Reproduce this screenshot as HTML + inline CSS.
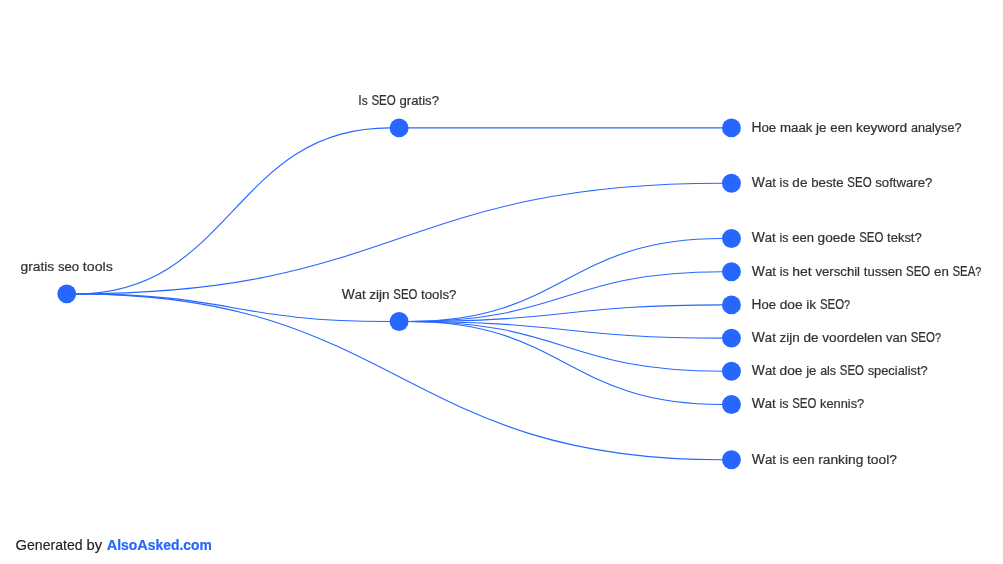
<!DOCTYPE html>
<html lang="nl">
<head>
<meta charset="utf-8">
<title>gratis seo tools</title>
<style>
html,body{margin:0;padding:0;background:#fff;}
body{width:1003px;height:564px;overflow:hidden;position:relative;}
svg{position:absolute;left:0;top:0;display:block;will-change:transform;}
text{font-family:"Liberation Sans",sans-serif;font-size:13.4px;fill:#333333;stroke:#333333;stroke-width:0.22px;}
.u{font-size:14.1px;}
.footer .u{font-size:14.8px;}
.links path{fill:none;stroke:#2667ff;stroke-width:1.1;}
.nodes circle{fill:#2667ff;}
.footer text{font-size:14.1px;fill:#222;stroke:#222;stroke-width:0.15px;}
.footer .brand{font-weight:bold;fill:#2667ff;stroke:#2667ff;stroke-width:0.22px;}
</style>
</head>
<body>
<svg xmlns="http://www.w3.org/2000/svg" width="1003" height="564" viewBox="0 0 1003 564">
<rect width="1003" height="564" fill="#ffffff"/>
<g class="links">
<path d="M66.75,293.85L76.10,293.85C232.92,293.85 232.93,127.90 389.75,127.90L399.10,127.90"/>
<path d="M66.75,293.85L76.10,293.85C232.92,293.85 232.93,321.50 389.75,321.50L399.10,321.50"/>
<path d="M399.10,127.90L408.45,127.90C565.28,127.90 565.28,127.90 722.10,127.90L731.45,127.90"/>
<path d="M66.75,293.85L76.10,293.85C399.10,293.85 399.10,183.20 722.10,183.20L731.45,183.20"/>
<path d="M399.10,321.50L408.45,321.50C565.28,321.50 565.28,238.50 722.10,238.50L731.45,238.50"/>
<path d="M399.10,321.50L408.45,321.50C565.28,321.50 565.28,271.70 722.10,271.70L731.45,271.70"/>
<path d="M399.10,321.50L408.45,321.50C565.28,321.50 565.28,304.90 722.10,304.90L731.45,304.90"/>
<path d="M399.10,321.50L408.45,321.50C565.28,321.50 565.28,338.10 722.10,338.10L731.45,338.10"/>
<path d="M399.10,321.50L408.45,321.50C565.28,321.50 565.28,371.30 722.10,371.30L731.45,371.30"/>
<path d="M399.10,321.50L408.45,321.50C565.28,321.50 565.28,404.50 722.10,404.50L731.45,404.50"/>
<path d="M66.75,293.85L76.10,293.85C399.10,293.85 399.10,459.80 722.10,459.80L731.45,459.80"/>
</g>
<g class="nodes">
<circle cx="66.75" cy="293.85" r="9.45"/>
<circle cx="399.10" cy="127.90" r="9.45"/>
<circle cx="399.10" cy="321.50" r="9.45"/>
<circle cx="731.45" cy="127.90" r="9.45"/>
<circle cx="731.45" cy="183.20" r="9.45"/>
<circle cx="731.45" cy="238.50" r="9.45"/>
<circle cx="731.45" cy="271.70" r="9.45"/>
<circle cx="731.45" cy="304.90" r="9.45"/>
<circle cx="731.45" cy="338.10" r="9.45"/>
<circle cx="731.45" cy="371.30" r="9.45"/>
<circle cx="731.45" cy="404.50" r="9.45"/>
<circle cx="731.45" cy="459.80" r="9.45"/>
</g>
<g class="labels">
<text y="270.90"><tspan x="20.50" textLength="33.73" lengthAdjust="spacingAndGlyphs">gratis</tspan> <tspan x="58.00" textLength="21.11" lengthAdjust="spacingAndGlyphs">seo</tspan> <tspan x="82.88" textLength="29.97" lengthAdjust="spacingAndGlyphs">tools</tspan></text>
<text y="104.95"><tspan x="358.27" textLength="9.40" lengthAdjust="spacingAndGlyphs"><tspan class="u">I</tspan>s</tspan> <tspan x="371.40" textLength="24.39" lengthAdjust="spacingAndGlyphs"><tspan class="u">SEO</tspan></tspan> <tspan x="399.53" textLength="39.47" lengthAdjust="spacingAndGlyphs">gratis?</tspan></text>
<text y="298.55"><tspan x="341.72" textLength="23.97" lengthAdjust="spacingAndGlyphs"><tspan class="u">W</tspan>at</tspan> <tspan x="369.38" textLength="20.22" lengthAdjust="spacingAndGlyphs">zijn</tspan> <tspan x="393.28" textLength="24.10" lengthAdjust="spacingAndGlyphs"><tspan class="u">SEO</tspan></tspan> <tspan x="421.06" textLength="35.33" lengthAdjust="spacingAndGlyphs">tools?</tspan></text>
<text y="131.80"><tspan x="751.42" textLength="24.83" lengthAdjust="spacingAndGlyphs"><tspan class="u">H</tspan>oe</tspan> <tspan x="779.99" textLength="32.41" lengthAdjust="spacingAndGlyphs">maak</tspan> <tspan x="816.14" textLength="10.45" lengthAdjust="spacingAndGlyphs">je</tspan> <tspan x="830.32" textLength="22.00" lengthAdjust="spacingAndGlyphs">een</tspan> <tspan x="856.06" textLength="51.14" lengthAdjust="spacingAndGlyphs">keyword</tspan> <tspan x="910.94" textLength="50.53" lengthAdjust="spacingAndGlyphs">analyse?</tspan></text>
<text y="187.10"><tspan x="751.78" textLength="24.13" lengthAdjust="spacingAndGlyphs"><tspan class="u">W</tspan>at</tspan> <tspan x="779.62" textLength="9.03" lengthAdjust="spacingAndGlyphs">is</tspan> <tspan x="792.36" textLength="15.07" lengthAdjust="spacingAndGlyphs">de</tspan> <tspan x="811.13" textLength="32.48" lengthAdjust="spacingAndGlyphs">beste</tspan> <tspan x="847.32" textLength="24.26" lengthAdjust="spacingAndGlyphs"><tspan class="u">SEO</tspan></tspan> <tspan x="875.29" textLength="57.05" lengthAdjust="spacingAndGlyphs">software?</tspan></text>
<text y="242.40"><tspan x="751.75" textLength="24.03" lengthAdjust="spacingAndGlyphs"><tspan class="u">W</tspan>at</tspan> <tspan x="779.47" textLength="8.99" lengthAdjust="spacingAndGlyphs">is</tspan> <tspan x="792.16" textLength="21.75" lengthAdjust="spacingAndGlyphs">een</tspan> <tspan x="817.60" textLength="37.91" lengthAdjust="spacingAndGlyphs">goede</tspan> <tspan x="859.20" textLength="24.16" lengthAdjust="spacingAndGlyphs"><tspan class="u">SEO</tspan></tspan> <tspan x="887.05" textLength="34.67" lengthAdjust="spacingAndGlyphs">tekst?</tspan></text>
<text y="275.60"><tspan x="751.75" textLength="24.16" lengthAdjust="spacingAndGlyphs"><tspan class="u">W</tspan>at</tspan> <tspan x="779.63" textLength="9.04" lengthAdjust="spacingAndGlyphs">is</tspan> <tspan x="792.39" textLength="19.37" lengthAdjust="spacingAndGlyphs">het</tspan> <tspan x="815.47" textLength="44.57" lengthAdjust="spacingAndGlyphs">verschil</tspan> <tspan x="863.75" textLength="38.55" lengthAdjust="spacingAndGlyphs">tussen</tspan> <tspan x="906.02" textLength="24.29" lengthAdjust="spacingAndGlyphs"><tspan class="u">SEO</tspan></tspan> <tspan x="934.03" textLength="14.77" lengthAdjust="spacingAndGlyphs">en</tspan> <tspan x="952.51" textLength="28.89" lengthAdjust="spacingAndGlyphs"><tspan class="u">SEA</tspan>?</tspan></text>
<text y="308.80"><tspan x="751.43" textLength="24.54" lengthAdjust="spacingAndGlyphs"><tspan class="u">H</tspan>oe</tspan> <tspan x="779.67" textLength="22.91" lengthAdjust="spacingAndGlyphs">doe</tspan> <tspan x="806.26" textLength="9.97" lengthAdjust="spacingAndGlyphs">ik</tspan> <tspan x="819.93" textLength="30.20" lengthAdjust="spacingAndGlyphs"><tspan class="u">SEO</tspan>?</tspan></text>
<text y="342.00"><tspan x="751.75" textLength="24.08" lengthAdjust="spacingAndGlyphs"><tspan class="u">W</tspan>at</tspan> <tspan x="779.54" textLength="20.31" lengthAdjust="spacingAndGlyphs">zijn</tspan> <tspan x="803.55" textLength="15.04" lengthAdjust="spacingAndGlyphs">de</tspan> <tspan x="822.28" textLength="60.04" lengthAdjust="spacingAndGlyphs">voordelen</tspan> <tspan x="886.02" textLength="20.99" lengthAdjust="spacingAndGlyphs">van</tspan> <tspan x="910.72" textLength="30.26" lengthAdjust="spacingAndGlyphs"><tspan class="u">SEO</tspan>?</tspan></text>
<text y="375.20"><tspan x="751.82" textLength="24.05" lengthAdjust="spacingAndGlyphs"><tspan class="u">W</tspan>at</tspan> <tspan x="779.56" textLength="22.93" lengthAdjust="spacingAndGlyphs">doe</tspan> <tspan x="806.18" textLength="10.33" lengthAdjust="spacingAndGlyphs">je</tspan> <tspan x="820.21" textLength="15.87" lengthAdjust="spacingAndGlyphs">als</tspan> <tspan x="839.78" textLength="24.18" lengthAdjust="spacingAndGlyphs"><tspan class="u">SEO</tspan></tspan> <tspan x="867.65" textLength="59.99" lengthAdjust="spacingAndGlyphs">specialist?</tspan></text>
<text y="408.40"><tspan x="751.67" textLength="24.08" lengthAdjust="spacingAndGlyphs"><tspan class="u">W</tspan>at</tspan> <tspan x="779.46" textLength="9.01" lengthAdjust="spacingAndGlyphs">is</tspan> <tspan x="792.17" textLength="24.21" lengthAdjust="spacingAndGlyphs"><tspan class="u">SEO</tspan></tspan> <tspan x="820.09" textLength="44.15" lengthAdjust="spacingAndGlyphs">kennis?</tspan></text>
<text y="463.70"><tspan x="751.75" textLength="24.24" lengthAdjust="spacingAndGlyphs"><tspan class="u">W</tspan>at</tspan> <tspan x="779.72" textLength="9.07" lengthAdjust="spacingAndGlyphs">is</tspan> <tspan x="792.51" textLength="21.94" lengthAdjust="spacingAndGlyphs">een</tspan> <tspan x="818.18" textLength="45.11" lengthAdjust="spacingAndGlyphs">ranking</tspan> <tspan x="867.01" textLength="29.95" lengthAdjust="spacingAndGlyphs">tool?</tspan></text>
</g>
<g class="footer">
<text y="550.00"><tspan x="15.51" textLength="67.07" lengthAdjust="spacingAndGlyphs"><tspan class="u">G</tspan>enerated</tspan> <tspan x="86.57" textLength="15.58" lengthAdjust="spacingAndGlyphs">by</tspan></text>
<text class="brand" y="550.00"><tspan x="106.71" textLength="105.06" lengthAdjust="spacingAndGlyphs"><tspan class="u">A</tspan>lso<tspan class="u">A</tspan>sked.com</tspan></text>
</g>
</svg>
</body>
</html>
